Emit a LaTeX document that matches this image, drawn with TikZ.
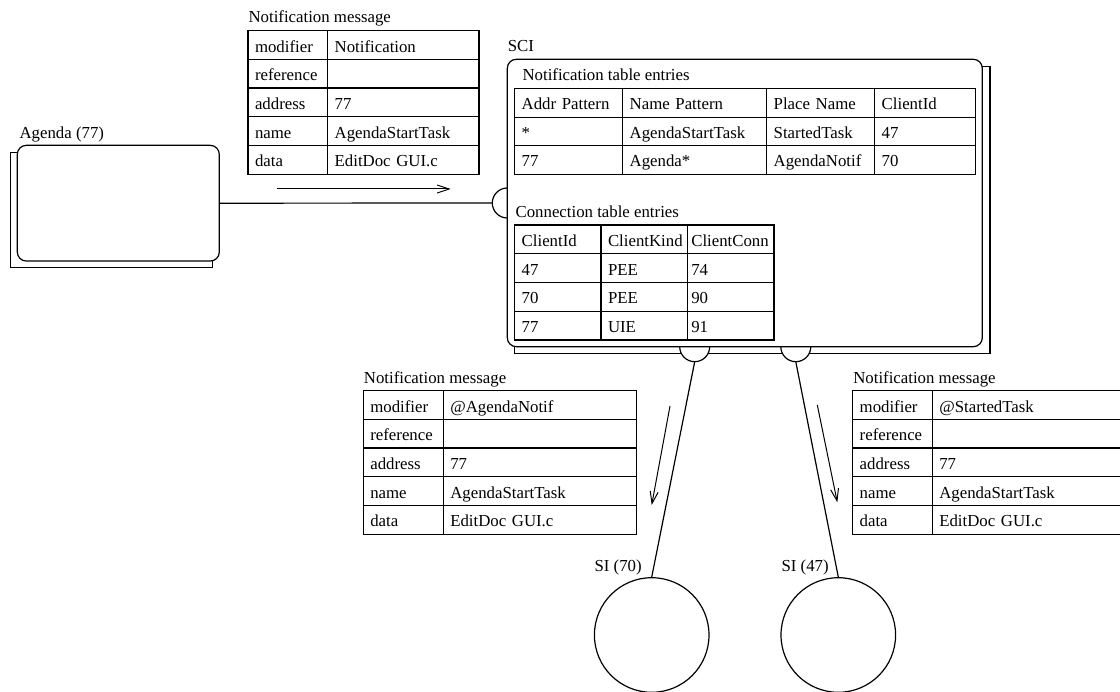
\documentclass[tikz,border=0pt]{standalone}
\usepackage{fontspec}
\setmainfont{Liberation Serif}
\usetikzlibrary{arrows.meta}
\begin{document}
\begin{tikzpicture}[x=1pt,y=-1pt,
  font=\fontsize{16.8pt}{20pt}\selectfont,
  line width=1.2pt,
  cell/.style={draw, anchor=north west, outer sep=0pt, inner xsep=7pt, inner ysep=0pt,
    align=left, text height=14pt, text depth=0pt},
  lbl/.style={anchor=base west, inner sep=0pt},
  box/.style={draw, fill=white, rounded corners=9pt, inner sep=0pt},
  shadowbox/.style={draw, fill=white},
  port/.style={draw, fill=white},
  arr/.style={-{Straight Barb[length=12pt,width=8pt]}, line width=1pt},
  sicircle/.style={draw, circle, minimum size=114.6pt, inner sep=0pt}]
\useasboundingbox (0,0) rectangle (1120,692);

% ---- top notification message
\node[lbl] (msgA) at (248,22.5) {Notification message};
\foreach \k/\a/\b in {0/modifier/Notification,1/reference/,2/address/77,3/name/AgendaStartTask,4/data/EditDoc GUI.c}{
  \node[cell, minimum height=28.7pt, text width=65.7pt] (ma-\k-1) at (248,30.7+\k*28.7) {\a};
  \node[cell, minimum height=28.7pt, text width=137.3pt] (ma-\k-2) at (327.7,30.7+\k*28.7) {\b};
}
\coordinate (aAs) at (276.7,189);
\coordinate (aAe) at (450.7,189);
\draw[arr] (aAs) -- (aAe);

% ---- Agenda
\node[lbl] (agendalbl) at (19,138.3) {Agenda (77)};
\draw[shadowbox] (10.3,152.7) rectangle (212.3,267.7);
\node[box, minimum width=202pt, minimum height=115.7pt] (agenda) at (118.3,203.2) {};

% ---- SCI
\node[lbl] (scilbl) at (507.3,51.7) {SCI};
\draw[shadowbox] (514.3,66.7) rectangle (990,353.3);
\draw[port] (507.3,188) arc[start angle=270, end angle=90, radius=15];
\draw[port] (679.7,346.7) arc[start angle=180, end angle=0, radius=15];
\draw[port] (780.8,346.7) arc[start angle=180, end angle=0, radius=15];
\node[box, minimum width=475pt, minimum height=287.4pt] (sci) at (744.8,203) {};
\coordinate (sciW) at (492.3,203);
\coordinate (p70) at (694.7,361.7);
\coordinate (p47) at (795.8,361.7);

\node[lbl] (ntlbl) at (522,80.7) {Notification table entries};
\foreach \k/\a/\b/\c/\d in {0/Addr Pattern/Name Pattern/Place Name/ClientId,1/*/AgendaStartTask/StartedTask/47,2/77/Agenda*/AgendaNotif/70}{
  \node[cell, minimum height=28.5pt, text width=94pt] (nt-\k-1) at (514.7,88.7+\k*28.5) {\a};
  \node[cell, minimum height=28.5pt, text width=130pt] (nt-\k-2) at (622.7,88.7+\k*28.5) {\b};
  \node[cell, minimum height=28.5pt, text width=94pt] (nt-\k-3) at (766.7,88.7+\k*28.5) {\c};
  \node[cell, minimum height=28.5pt, text width=87pt] (nt-\k-4) at (874.7,88.7+\k*28.5) {\d};
}

\node[lbl] (ctlbl) at (515,217.7) {Connection table entries};
\foreach \k/\a/\b/\c in {0/ClientId/ClientKind/ClientConn,1/47/PEE/74,2/70/PEE/90,3/77/UIE/91}{
  \node[cell, minimum height=28.75pt, text width=72.3pt] (ct-\k-1) at (514.7,225+\k*28.75) {\a};
  \node[cell, minimum height=28.75pt, text width=72.3pt] (ct-\k-2) at (601,225+\k*28.75) {\b};
  \node[cell, minimum height=28.75pt, inner xsep=4pt, text width=78.7pt] (ct-\k-3) at (687.3,225+\k*28.75) {\c};
}

\draw (agenda.east) -- (sciW);

% ---- bottom-left notification message
\node[lbl] (msgB) at (363.3,383.3) {Notification message};
\foreach \k/\a/\b in {0/modifier/@AgendaNotif,1/reference/,2/address/77,3/name/AgendaStartTask,4/data/EditDoc GUI.c}{
  \node[cell, minimum height=28.7pt, text width=66pt] (mb-\k-1) at (363.3,390.7+\k*28.7) {\a};
  \node[cell, minimum height=28.7pt, text width=179.4pt] (mb-\k-2) at (443.3,390.7+\k*28.7) {\b};
}

% ---- bottom-right notification message
\node[lbl] (msgC) at (852.7,383.3) {Notification message};
\foreach \k/\a/\b in {0/modifier/@StartedTask,1/reference/,2/address/77,3/name/AgendaStartTask,4/data/EditDoc GUI.c}{
  \node[cell, minimum height=28.7pt, text width=65.6pt] (mc-\k-1) at (852.7,390.7+\k*28.7) {\a};
  \node[cell, minimum height=28.7pt, text width=179.4pt] (mc-\k-2) at (932.3,390.7+\k*28.7) {\b};
}

% ---- SI circles
\node[sicircle] (si70) at (651.7,635) {};
\node[sicircle] (si47) at (838.3,635) {};
\node[lbl] (si70lbl) at (594,571.7) {SI (70)};
\node[lbl] (si47lbl) at (781,571.7) {SI (47)};
\draw (p70) -- (si70.north);
\draw (p47) -- (si47.north);

\coordinate (aBs) at (670,406);
\coordinate (aBe) at (651.7,505);
\draw[arr] (aBs) -- (aBe);
\coordinate (aCs) at (817.3,405);
\coordinate (aCe) at (837.3,502.3);
\draw[arr] (aCs) -- (aCe);
\end{tikzpicture}
\end{document}
